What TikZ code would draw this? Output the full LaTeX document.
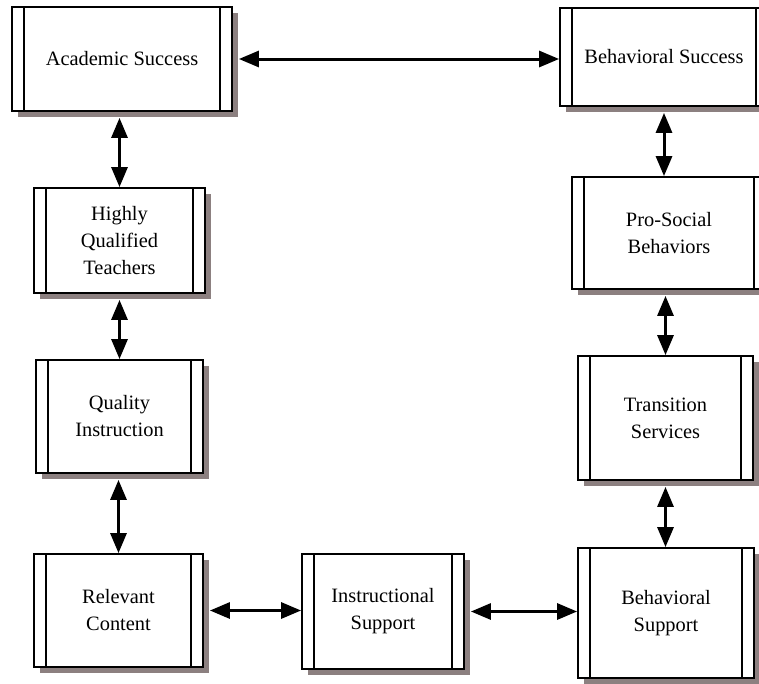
\documentclass[tikz,border=0pt]{standalone}
\usepackage{fontspec}
\setmainfont{Liberation Serif}
\usetikzlibrary{arrows.meta,shadows}
\definecolor{shadowgray}{RGB}{140,128,128}

\begin{document}
\begin{tikzpicture}
  [x=1pt,y=-1pt,
   procbox/.style={draw,line width=1.8pt,fill=white,align=center,inner sep=0pt,
     font=\fontsize{20.4}{27}\selectfont,
     drop shadow={shadow xshift=6pt,shadow yshift=-6pt,fill=shadowgray,opacity=1},
     path picture={
       \draw[line width=1.8pt] ([xshift=12pt]path picture bounding box.north west) -- ([xshift=12pt]path picture bounding box.south west);
       \draw[line width=1.8pt] ([xshift=-12pt]path picture bounding box.north east) -- ([xshift=-12pt]path picture bounding box.south east);
     }},
   link/.style={{Triangle[length=20pt,width=16pt]}-{Triangle[length=20pt,width=16pt]},line width=3pt}]
  \useasboundingbox (0,0) rectangle (759,683);
  \clip (0,0) rectangle (759,683);

  \node[procbox,minimum width=220pt,minimum height=104pt] (n0) at (122,59)    {Academic Success};
  \node[procbox,minimum width=208pt,minimum height=98pt]  (n1) at (664,57)    {Behavioral Success};
  \node[procbox,minimum width=171pt,minimum height=105pt] (n2) at (119.5,240.5) {Highly\\Qualified\\Teachers};
  \node[procbox,minimum width=167pt,minimum height=113pt] (n3) at (119.5,416.5) {Quality\\Instruction};
  \node[procbox,minimum width=169pt,minimum height=113pt] (n4) at (118.5,610.5) {Relevant\\Content};
  \node[procbox,minimum width=162pt,minimum height=115pt] (n5) at (383,611.5) {Instructional\\Support};
  \node[procbox,minimum width=176pt,minimum height=130pt] (n6) at (666,613)   {Behavioral\\Support};
  \node[procbox,minimum width=194pt,minimum height=112pt] (n7) at (669,233)   {Pro-Social\\Behaviors};
  \node[procbox,minimum width=175pt,minimum height=124pt] (n8) at (665.5,418) {Transition\\Services};

  % left column
  \draw[link] ([xshift=6pt]n0.east) -- (n1.west |- n0.east);
  \draw[link] ([yshift=-6pt]n2.north |- n0.south) -- (n2.north);
  \draw[link] ([yshift=-6pt]n3.north |- n2.south) -- (n3.north);
  \draw[link] ([yshift=-6pt]n4.north |- n3.south) -- (n4.north);
  % bottom row
  \draw[link] ([xshift=6pt]n4.east) -- (n5.west |- n4.east);
  \draw[link] ([xshift=6pt]n5.east) -- (n6.west |- n5.east);
  % right column
  \draw[link] ([yshift=-6pt]n1.south) -- (n1.south |- n7.north);
  \draw[link] ([yshift=-6pt]n8.north |- n7.south) -- (n8.north);
  \draw[link] ([yshift=-6pt]n8.south) -- (n8.south |- n6.north);
\end{tikzpicture}
\end{document}
